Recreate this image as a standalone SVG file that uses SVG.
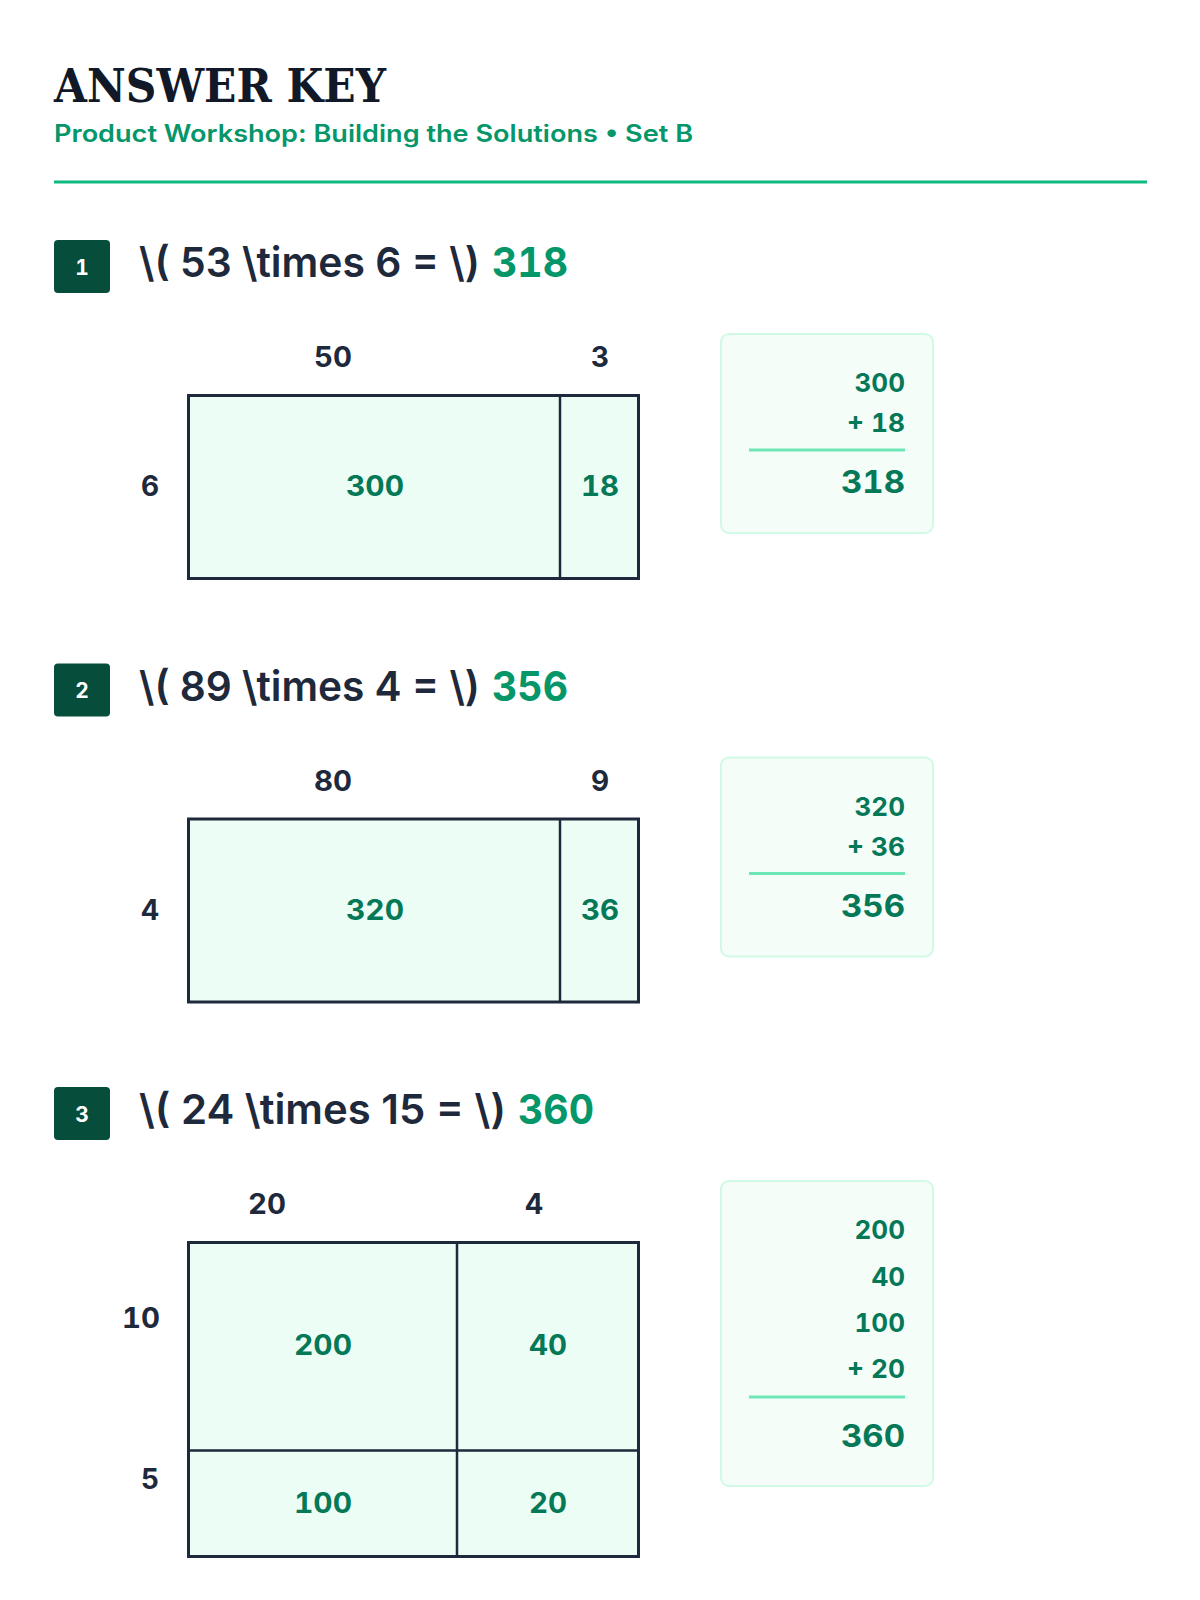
<svg xmlns="http://www.w3.org/2000/svg" width="1200" height="1600" viewBox="0 0 1200 1600">
<style>
.title{font-family:"DejaVu Serif","Liberation Serif",serif;font-weight:700;font-size:46px;fill:#111827}
.sub{font-family:Inter,"Noto Sans","Liberation Sans",sans-serif;font-weight:600;font-size:24px;fill:#059669}
.badge{fill:#064e3b}
.bnum{font-family:Inter,"Liberation Sans",sans-serif;font-weight:700;font-size:21px;fill:#ffffff;text-anchor:middle;font-variant-numeric:tabular-nums}
.eq{font-family:Inter,"Liberation Sans",sans-serif;font-weight:600;font-size:41px;fill:#1e293b}
.ans{font-family:Inter,"Liberation Sans",sans-serif;font-weight:700;font-size:41px;fill:#059669;font-variant-numeric:tabular-nums}
.area{fill:#ecfdf5;stroke:#1e293b;stroke-width:3}
.div{stroke:#1e293b;stroke-width:2.5;fill:none}
.dim{font-family:Inter,"Liberation Sans",sans-serif;font-weight:700;font-size:28px;fill:#1e293b;text-anchor:middle;font-variant-numeric:tabular-nums}
.cell{font-family:Inter,"Liberation Sans",sans-serif;font-weight:700;font-size:28px;fill:#047857;text-anchor:middle;font-variant-numeric:tabular-nums}
.sbox{fill:#f5fdf9;stroke:#d1fae5;stroke-width:2}
.term{font-family:Inter,"Liberation Sans",sans-serif;font-weight:700;font-size:26px;fill:#047857;text-anchor:end;font-variant-numeric:tabular-nums}
.total{font-family:Inter,"Liberation Sans",sans-serif;font-weight:700;font-size:31px;fill:#047857;text-anchor:end;font-variant-numeric:tabular-nums}
.sline{stroke:#6ee7b7;stroke-width:3}
</style>
<g id="header">
<text class="title" x="54" y="102" textLength="332" lengthAdjust="spacingAndGlyphs">ANSWER KEY</text>
<text class="sub" x="54" y="142" textLength="639" lengthAdjust="spacingAndGlyphs">Product Workshop: Building the Solutions • Set B</text>
<line x1="54" y1="182" x2="1147" y2="182" stroke="#10b981" stroke-width="3"/>
</g>
<g id="problem1">
<rect class="badge" x="54" y="240" width="56" height="53" rx="4"/>
<text class="bnum" x="82" y="274.5">1</text>
<text class="eq" x="139" y="277" textLength="341" lengthAdjust="spacingAndGlyphs">\( 53 \times 6 = \)</text>
<text class="ans" x="492" y="277" textLength="76" lengthAdjust="spacingAndGlyphs">318</text>
<text class="dim" x="333" y="367" textLength="38" lengthAdjust="spacingAndGlyphs">50</text>
<text class="dim" x="600" y="367">3</text>
<text class="dim" x="150" y="496">6</text>
<rect class="area" x="188.5" y="395.5" width="450" height="183"/>
<line class="div" x1="560" y1="395.5" x2="560" y2="578.5"/>
<text class="cell" x="375" y="496" textLength="58" lengthAdjust="spacingAndGlyphs">300</text>
<text class="cell" x="600" y="496" textLength="38" lengthAdjust="spacingAndGlyphs">18</text>
<rect class="sbox" x="721" y="334" width="212" height="199" rx="8"/>
<text class="term" x="905" y="392">300</text>
<text class="term" x="905" y="432" textLength="58" lengthAdjust="spacingAndGlyphs">+ 18</text>
<line class="sline" x1="749" y1="450" x2="905" y2="450"/>
<text class="total" x="905" y="493" textLength="64" lengthAdjust="spacingAndGlyphs">318</text>
</g>
<g id="problem2" transform="translate(0,423.5)">
<rect class="badge" x="54" y="240" width="56" height="53" rx="4"/>
<text class="bnum" x="82" y="274.5">2</text>
<text class="eq" x="139" y="277" textLength="341" lengthAdjust="spacingAndGlyphs">\( 89 \times 4 = \)</text>
<text class="ans" x="492" y="277" textLength="76" lengthAdjust="spacingAndGlyphs">356</text>
<text class="dim" x="333" y="367" textLength="38" lengthAdjust="spacingAndGlyphs">80</text>
<text class="dim" x="600" y="367">9</text>
<text class="dim" x="150" y="496">4</text>
<rect class="area" x="188.5" y="395.5" width="450" height="183"/>
<line class="div" x1="560" y1="395.5" x2="560" y2="578.5"/>
<text class="cell" x="375" y="496" textLength="58" lengthAdjust="spacingAndGlyphs">320</text>
<text class="cell" x="600" y="496" textLength="38" lengthAdjust="spacingAndGlyphs">36</text>
<rect class="sbox" x="721" y="334" width="212" height="199" rx="8"/>
<text class="term" x="905" y="392">320</text>
<text class="term" x="905" y="432" textLength="58" lengthAdjust="spacingAndGlyphs">+ 36</text>
<line class="sline" x1="749" y1="450" x2="905" y2="450"/>
<text class="total" x="905" y="493" textLength="64" lengthAdjust="spacingAndGlyphs">356</text>
</g>
<g id="problem3">
<rect class="badge" x="54" y="1087" width="56" height="53" rx="4"/>
<text class="bnum" x="82" y="1121.5">3</text>
<text class="eq" x="139" y="1124" textLength="367" lengthAdjust="spacingAndGlyphs">\( 24 \times 15 = \)</text>
<text class="ans" x="518" y="1124" textLength="76" lengthAdjust="spacingAndGlyphs">360</text>
<text class="dim" x="267" y="1214" textLength="38" lengthAdjust="spacingAndGlyphs">20</text>
<text class="dim" x="534" y="1214">4</text>
<text class="dim" x="141" y="1328" textLength="38" lengthAdjust="spacingAndGlyphs">10</text>
<text class="dim" x="150" y="1489">5</text>
<rect class="area" x="188.5" y="1242.5" width="450" height="314"/>
<line class="div" x1="457" y1="1242.5" x2="457" y2="1556.5"/>
<line class="div" x1="188.5" y1="1450.5" x2="638.5" y2="1450.5"/>
<text class="cell" x="323" y="1355" textLength="58" lengthAdjust="spacingAndGlyphs">200</text>
<text class="cell" x="548" y="1355" textLength="38" lengthAdjust="spacingAndGlyphs">40</text>
<text class="cell" x="323" y="1513" textLength="58" lengthAdjust="spacingAndGlyphs">100</text>
<text class="cell" x="548" y="1513" textLength="38" lengthAdjust="spacingAndGlyphs">20</text>
<rect class="sbox" x="721" y="1181" width="212" height="305" rx="8"/>
<text class="term" x="905" y="1239">200</text>
<text class="term" x="905" y="1286">40</text>
<text class="term" x="905" y="1332">100</text>
<text class="term" x="905" y="1378" textLength="58" lengthAdjust="spacingAndGlyphs">+ 20</text>
<line class="sline" x1="749" y1="1397" x2="905" y2="1397"/>
<text class="total" x="905" y="1447" textLength="64" lengthAdjust="spacingAndGlyphs">360</text>
</g>
</svg>
